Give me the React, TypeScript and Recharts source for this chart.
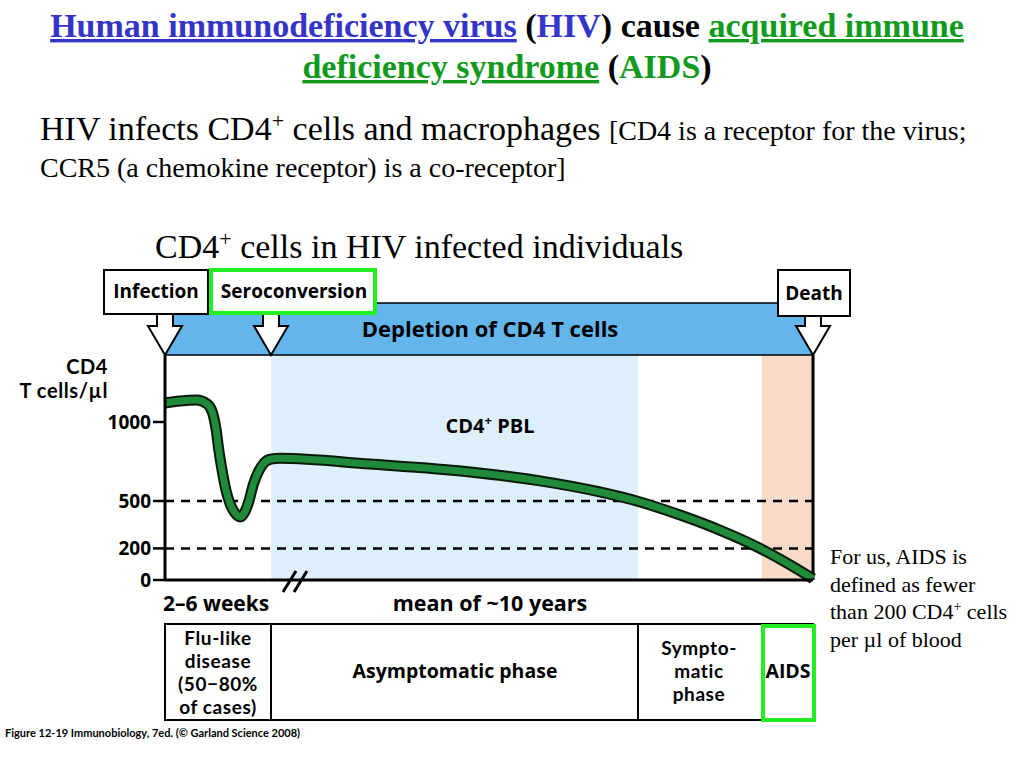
import React from 'react';
import {
  ComposedChart,
  Line,
  XAxis,
  YAxis,
  ReferenceLine,
  ReferenceArea,
} from 'recharts';

// time in arbitrary units: 0 = infection, 100 = death (the weeks part is stretched)
const times = [0, 2.3, 4.9, 6.5, 7.3, 7.9, 8.3, 8.8, 9.4, 10.0, 10.8, 11.6, 12.3, 13.0, 13.6, 14.4, 15.3, 16.4, 17.7, 31.6, 47.1, 57.9, 67.1, 73.3, 79.5, 85.6, 91.4, 96.5, 100];
// CD4 T cells per µl
const cd4 = [1120, 1133, 1139, 1114, 1063, 949, 823, 696, 570, 487, 424, 399, 430, 506, 601, 684, 741, 766, 770, 734, 684, 627, 557, 494, 411, 316, 209, 95, 8];

const yTicks = [0, 200, 500, 1000];
const thresholds = [500, 200];
const xTicks = [0, 16.4, 100];
// phase boundaries on the time axis
const seroconversion = 16.4;
const asymptomaticEnd = 73.0;
const aidsStart = 92.1;
const deathTime = 100;

const data = times.map((t, i) => ({ t, cd4: cd4[i] }));

const FIG_FONT = '"Open Sans", Lato, sans-serif';
// tighter line box, used where lines are stacked closely
const STACK_FONT = 'Lato, sans-serif';
const SERIF = '"Liberation Serif", "Times New Roman", serif';
const BLUE = '#3434c8';
const GREEN = '#129a1e';
const BRIGHT_GREEN = '#22ee22';

const Arrow = ({ x, top }: { x: number; top: number }) => (
  <path
    d={`M ${x - 8} ${top} V 326 H ${x - 17} L ${x} 355 L ${x + 17} 326 H ${x + 8} V ${top}`}
    fill="#fff"
    stroke="#000"
    strokeWidth={2}
  />
);

// several lines inside one <text>, centred on x
const Lines = ({ x, y, step, lines }: { x: number; y: number; step: number; lines: string[] }) => (
  <text x={x} y={y} textAnchor="middle">
    {lines.map((l, i) => (
      <tspan key={i} x={x} dy={i === 0 ? 0 : step}>{l}</tspan>
    ))}
  </text>
);

export default function App() {
  return (
    <div style={{ position: 'absolute', left: 0, top: 0, width: 1024, height: 768, background: '#fff' }}>
      <ComposedChart
        width={1024}
        height={768}
        data={data}
        margin={{ top: 355, right: 211, bottom: 158, left: 105 }}
      >
        <ReferenceArea x1={seroconversion} x2={asymptomaticEnd} fill="#ddeffb" fillOpacity={1} stroke="none" />
        <ReferenceArea x1={aidsStart} x2={deathTime} fill="#f7dac8" fillOpacity={1} stroke="none" />
        {thresholds.map((v) => (
          <ReferenceLine key={v} y={v} stroke="#000" strokeWidth={2.5} strokeDasharray="9 7" />
        ))}
        <XAxis
          dataKey="t"
          type="number"
          domain={[0, 100]}
          ticks={xTicks}
          tick={false}
          tickSize={11}
          axisLine={{ stroke: '#000', strokeWidth: 3 }}
          tickLine={{ stroke: '#000', strokeWidth: 2.5 }}
        />
        <YAxis
          type="number"
          domain={[0, 1424]}
          ticks={yTicks}
          interval={0}
          width={60}
          tickSize={12}
          axisLine={{ stroke: '#000', strokeWidth: 3 }}
          tickLine={{ stroke: '#000', strokeWidth: 2.5 }}
          tick={{ fill: '#000', fontSize: 19, fontWeight: 700, fontFamily: FIG_FONT }}
        />
        <ReferenceLine x={deathTime} stroke="#000" strokeWidth={3} />
        <Line type="monotone" dataKey="cd4" stroke="#0a1a0a" strokeWidth={11} dot={false} isAnimationActive={false} />
        <Line type="monotone" dataKey="cd4" stroke="#1f8a3a" strokeWidth={7} dot={false} isAnimationActive={false} />
      </ComposedChart>

      <svg
        width={1024}
        height={768}
        style={{ position: 'absolute', left: 0, top: 0, pointerEvents: 'none' }}
      >
        {/* title */}
        <text x={507} y={37} textAnchor="middle" fontFamily={SERIF} fontSize={34} fontWeight={700}>
          <tspan fill={BLUE} style={{ textDecoration: 'underline' }}>Human immunodeficiency virus</tspan>
          <tspan fill="#000"> (</tspan>
          <tspan fill={BLUE}>HIV</tspan>
          <tspan fill="#000">) cause </tspan>
          <tspan fill={GREEN} style={{ textDecoration: 'underline' }}>acquired immune</tspan>
        </text>
        <text x={507} y={78} textAnchor="middle" fontFamily={SERIF} fontSize={34} fontWeight={700}>
          <tspan fill={GREEN} style={{ textDecoration: 'underline' }}>deficiency syndrome</tspan>
          <tspan fill="#000"> (</tspan>
          <tspan fill={GREEN}>AIDS</tspan>
          <tspan fill="#000">)</tspan>
        </text>

        <text x={40} y={140} fontFamily={SERIF} fontSize={34} fill="#000">
          HIV infects CD4<tspan fontSize={22} dy={-12}>+</tspan>
          <tspan dy={12}> cells and macrophages </tspan>
          <tspan fontSize={28}>[CD4 is a receptor for the virus;</tspan>
          <tspan x={40} dy={37} fontSize={28}>CCR5 (a chemokine receptor) is a co-receptor]</tspan>
        </text>
        <text x={155} y={258} fontFamily={SERIF} fontSize={34} fill="#000">
          CD4<tspan fontSize={22} dy={-12}>+</tspan>
          <tspan dy={12}> cells in HIV infected individuals</tspan>
        </text>

        {/* banner */}
        <rect x={165} y={303} width={648} height={52} fill="#63b6ec" stroke="#000" strokeWidth={1.5} />
        <text x={490} y={337} textAnchor="middle" fontFamily={FIG_FONT} fontSize={22} fontWeight={700} fill="#000">
          Depletion of CD4 T cells
        </text>

        {/* event boxes and arrows */}
        <Arrow x={165} top={313} />
        <rect x={104} y={270} width={104} height={44} fill="#fff" stroke="#000" strokeWidth={2} />
        <text x={156} y={298} textAnchor="middle" fontFamily={FIG_FONT} fontSize={19} fontWeight={700}>Infection</text>

        <Arrow x={271} top={313} />
        <rect x={211} y={270} width={164} height={43} fill="#fff" stroke={BRIGHT_GREEN} strokeWidth={4} />
        <text x={294} y={298} textAnchor="middle" fontFamily={FIG_FONT} fontSize={19} fontWeight={700}>Seroconversion</text>

        <Arrow x={813} top={315} />
        <rect x={778} y={270} width={72} height={46} fill="#fff" stroke="#000" strokeWidth={2} />
        <text x={814} y={300} textAnchor="middle" fontFamily={FIG_FONT} fontSize={19} fontWeight={700}>Death</text>

        {/* y axis title */}
        <text x={108} y={374} textAnchor="end" fontFamily={STACK_FONT} fontSize={20} fontWeight={700} letterSpacing={0.6}>
          <tspan x={108}>CD4</tspan>
          <tspan x={108} dy={24}>T cells/µl</tspan>
        </text>

        <text x={490} y={433} textAnchor="middle" fontFamily={FIG_FONT} fontSize={20} fontWeight={700}>
          CD4<tspan fontSize={13} dy={-8}>+</tspan>
          <tspan dy={8}> PBL</tspan>
        </text>

        {/* axis break */}
        <line x1={283} y1={592} x2={296} y2={571} stroke="#000" strokeWidth={3} />
        <line x1={294} y1={592} x2={307} y2={571} stroke="#000" strokeWidth={3} />

        <text x={163} y={611} fontFamily={FIG_FONT} fontSize={21} fontWeight={700}>2–6 weeks</text>
        <text x={490} y={611} textAnchor="middle" fontFamily={FIG_FONT} fontSize={21.5} fontWeight={700}>mean of ~10 years</text>

        {/* phase table */}
        <rect x={165} y={624} width={648} height={96} fill="none" stroke="#000" strokeWidth={2} />
        <line x1={271} y1={624} x2={271} y2={720} stroke="#000" strokeWidth={2} />
        <line x1={638} y1={624} x2={638} y2={720} stroke="#000" strokeWidth={2} />
        <g fontFamily={STACK_FONT} fontSize={19} fontWeight={700} fill="#000" letterSpacing={0.6}>
          <Lines x={218} y={645} step={23} lines={['Flu-like', 'disease', '(50−80%', 'of cases)']} />
          <Lines x={699} y={655} step={23} lines={['Sympto-', 'matic', 'phase']} />
        </g>
        <g fontFamily={FIG_FONT} fontSize={19.5} fontWeight={700} fill="#000">
          <Lines x={455} y={678} step={0} lines={['Asymptomatic phase']} />
          <Lines x={788} y={678} step={0} lines={['AIDS']} />
        </g>
        <rect x={763} y={626} width={51} height={94} fill="none" stroke={BRIGHT_GREEN} strokeWidth={4} />

        {/* side note */}
        <text x={830} y={564} fontFamily={SERIF} fontSize={22} fill="#000">
          <tspan x={830}>For us, AIDS is</tspan>
          <tspan x={830} dy={28}>defined as fewer</tspan>
          <tspan x={830} dy={27}>than 200 CD4</tspan>
          <tspan fontSize={14} dy={-8}>+</tspan>
          <tspan dy={8}> cells</tspan>
          <tspan x={830} dy={28}>per µl of blood</tspan>
        </text>

        <text x={5} y={737} fontFamily="Lato, sans-serif" fontSize={11} fontWeight={700}>
          Figure 12-19  Immunobiology, 7ed. (© Garland Science 2008)
        </text>
      </svg>
    </div>
  );
}
